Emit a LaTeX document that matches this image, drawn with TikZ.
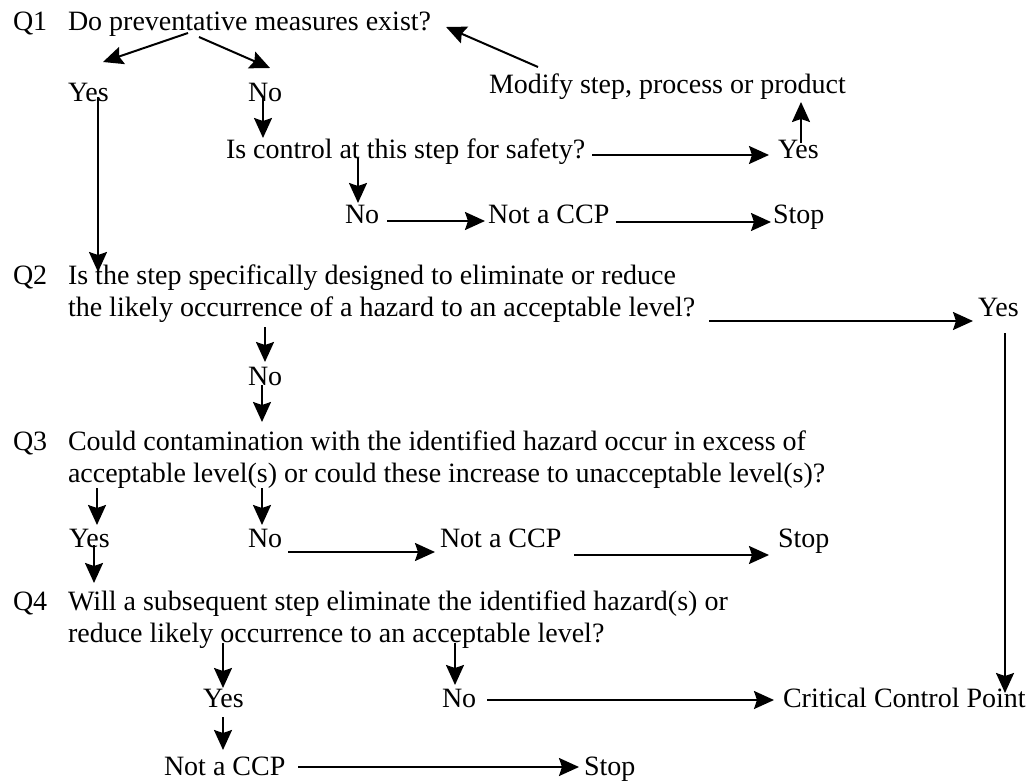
\documentclass[tikz,border=0pt]{standalone}
\usepackage{fontspec}
\setmainfont{Liberation Serif}
\usetikzlibrary{arrows.meta,calc}
\begin{document}
\begin{tikzpicture}[x=1pt,y=-1pt,
  lbl/.style={inner sep=0pt,outer sep=0pt,anchor=base west,font=\fontsize{28pt}{32pt}\selectfont},
  arr/.style={line width=2pt,-{Stealth[length=20pt,width=18pt,inset=3pt]}}]
\useasboundingbox (0,0) rectangle (1036,781);

% Q1
\node[lbl] (q1) at (13,31) {Q1};
\node[lbl] (t1) at (68,31) {Do preventative measures exist?};
\node[lbl] (yes1) at (68,102) {Yes};
\node[lbl] (no1) at (248,102) {No};
\node[lbl] (mod) at (489,94) {Modify step, process or product};
\node[lbl] (ctrl) at (226,158) {Is control at this step for safety?};
\node[lbl] (yes2) at (778,159) {Yes};
\node[lbl] (no2) at (345,223) {No};
\node[lbl] (nccp1) at (488,223) {Not a CCP};
\node[lbl] (stop1) at (773,223) {Stop};

% Q2
\node[lbl] (q2) at (13,284) {Q2};
\node[lbl] (t2a) at (68,284) {Is the step specifically designed to eliminate or reduce};
\node[lbl] (t2b) at (68,316) {the likely occurrence of a hazard to an acceptable level?};
\node[lbl] (yes3) at (978,316) {Yes};
\node[lbl] (no3) at (248,385) {No};

% Q3
\node[lbl] (q3) at (13,450) {Q3};
\node[lbl] (t3a) at (68,450) {Could contamination with the identified hazard occur in excess of};
\node[lbl] (t3b) at (68,482) {acceptable level(s) or could these increase to unacceptable level(s)?};
\node[lbl] (yes4) at (69,547) {Yes};
\node[lbl] (no4) at (248,547) {No};
\node[lbl] (nccp2) at (440,547) {Not a CCP};
\node[lbl] (stop2) at (778,547) {Stop};

% Q4
\node[lbl] (q4) at (13,610) {Q4};
\node[lbl] (t4a) at (68,610) {Will a subsequent step eliminate the identified hazard(s) or};
\node[lbl] (t4b) at (68,642) {reduce likely occurrence to an acceptable level?};
\node[lbl] (yes5) at (203,707) {Yes};
\node[lbl] (no5) at (442,707) {No};
\node[lbl] (ccp) at (783,707) {Critical Control Point};
\node[lbl] (nccp3) at (164,775) {Not a CCP};
\node[lbl] (stop3) at (584,775) {Stop};

% Q1 branches
\draw[arr] ($(t1.base west)+(120,2)$) -- ($(yes1.base west)+(35,-40)$);
\draw[arr] ($(t1.base west)+(131,6)$) -- ($(no1.base west)+(22,-34)$);
\draw[arr] ($(mod.base west)+(49,-27)$) -- ($(t1.base east)+(15,-4)$);
\draw[arr] ($(yes1.base west)+(30,-5)$) -- ($(t2a.base west)+(30,-12)$);
\draw[arr] ($(no1.base west)+(15,-5)$) -- ($(ctrl.base west)+(37,-20)$);
\draw[arr] ($(ctrl.base west)+(132,0)$) -- ($(no2.base west)+(13,-20)$);
\draw[arr] ($(ctrl.base east)+(7,-3)$) -- ($(yes2.base west)+(-9,-4)$);
\draw[arr] ($(yes2.base west)+(23,-16)$) -- ($(mod.base west)+(312,8)$);
\draw[arr] ($(no2.base east)+(8,-2)$) -- ($(nccp1.base west)+(-3,-2)$);
\draw[arr] ($(nccp1.base east)+(7,-1)$) -- ($(stop1.base west)+(-2,-1)$);

% Q2 branches
\draw[arr] ($(t2b.base east)+(14,5)$) -- ($(yes3.base west)+(-5,5)$);
\draw[arr] ($(yes3.base west)+(27,17)$) -- ($(ccp.base west)+(222,-14)$);
\draw[arr] ($(t2b.base west)+(197,11)$) -- ($(no3.base west)+(17,-23)$);
\draw[arr] ($(no3.base west)+(14,0)$) -- ($(t3a.base west)+(194,-28)$);

% Q3 branches
\draw[arr] ($(t3b.base west)+(29,6)$) -- ($(yes4.base west)+(28,-22)$);
\draw[arr] ($(t3b.base west)+(194,6)$) -- ($(no4.base west)+(14,-22)$);
\draw[arr] ($(no4.base east)+(6,5)$) -- ($(nccp2.base west)+(-5,5)$);
\draw[arr] ($(nccp2.base east)+(13,8)$) -- ($(stop2.base west)+(-9,8)$);
\draw[arr] ($(yes4.base west)+(25,-2)$) -- ($(t4a.base west)+(26,-27)$);

% Q4 branches
\draw[arr] ($(t4b.base west)+(155,1)$) -- ($(yes5.base west)+(20,-19)$);
\draw[arr] ($(t4b.base west)+(387,1)$) -- ($(no5.base west)+(13,-22)$);
\draw[arr] ($(no5.base east)+(11,-7)$) -- ($(ccp.base west)+(-9,-7)$);
\draw[arr] ($(yes5.base west)+(20,10)$) -- ($(nccp3.base west)+(59,-25)$);
\draw[arr] ($(nccp3.base east)+(13,-8)$) -- ($(stop3.base west)+(-5,-8)$);
\end{tikzpicture}
\end{document}
